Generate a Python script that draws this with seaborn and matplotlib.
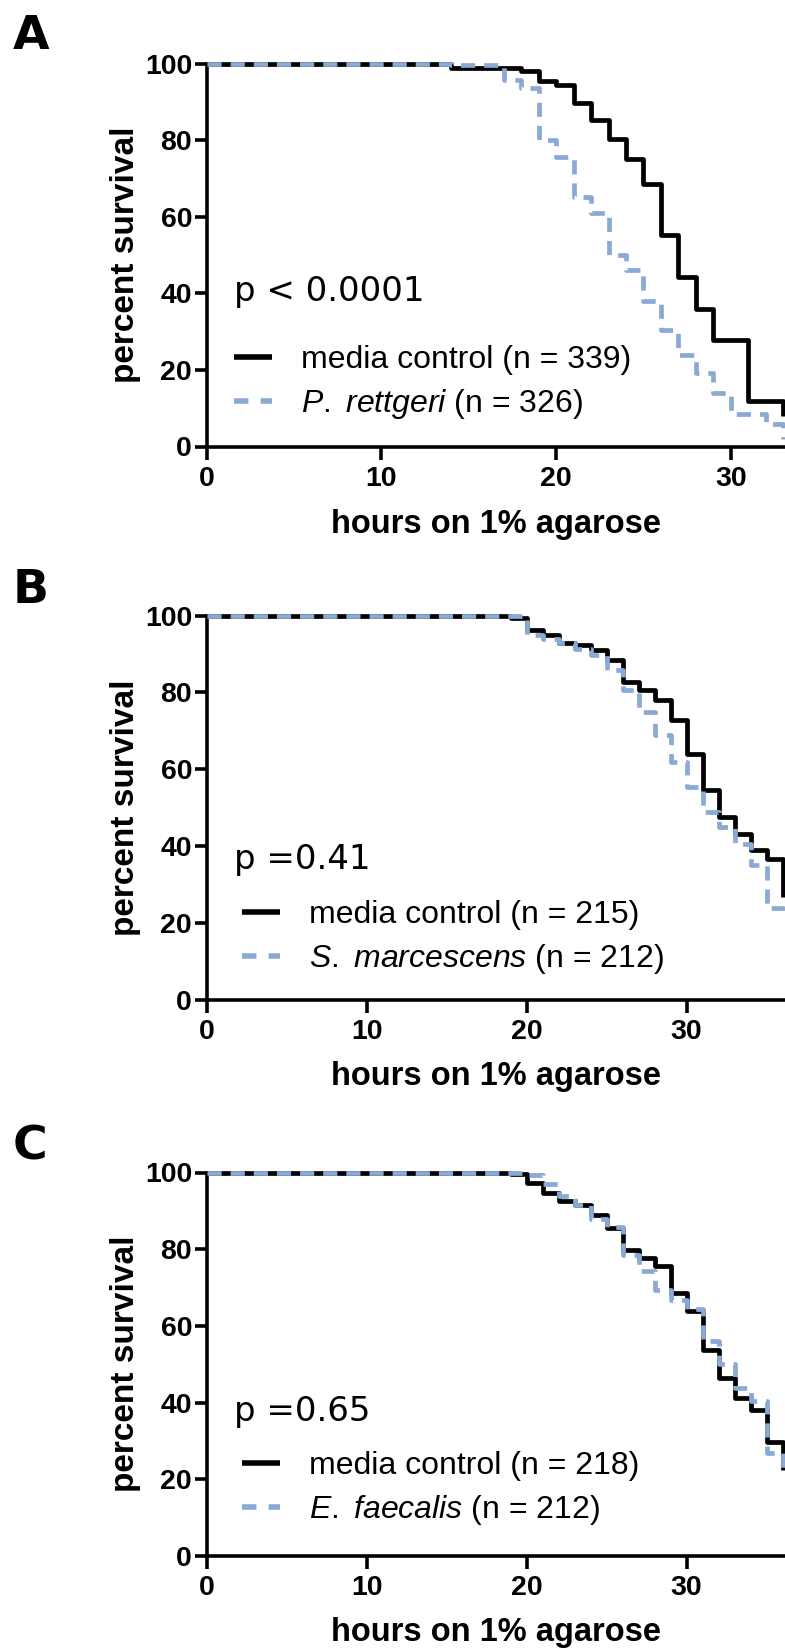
import matplotlib
matplotlib.use("Agg")
import matplotlib.pyplot as plt
from matplotlib.lines import Line2D
import pandas as pd
import seaborn as sns

# ---------------- data ----------------
# Panel A
a_ctrl_hours = [0, 14, 18, 19, 20, 21, 22, 23, 24, 25, 26, 27, 28, 29, 31, 33]
a_ctrl_surv = [100, 98.8, 98.1, 95.5, 94.4, 89.6, 85.3, 80.3, 75.0, 68.6, 55.2, 44.2, 35.8, 27.8, 12.0, 8.0]
a_trt_hours = [0, 14, 17, 18, 19, 20, 21, 22, 23, 24, 25, 26, 27, 28, 29, 30, 32, 33]
a_trt_surv = [100, 99.6, 95.7, 93.5, 80.0, 75.7, 65.2, 60.9, 50.0, 46.1, 38.0, 30.4, 23.9, 19.1, 13.9, 8.6, 6.0, 2.0]
# Panel B
b_ctrl_hours = [0, 19, 20, 21, 22, 23, 24, 25, 26, 27, 28, 29, 30, 31, 32, 33, 34, 35, 36]
b_ctrl_surv = [100, 99.3, 96.1, 94.8, 92.8, 92.2, 90.9, 88.3, 82.7, 80.5, 78.0, 72.7, 64.1, 54.5, 47.6, 43.2, 38.9, 36.8, 26.8]
b_trt_hours = [0, 20, 21, 22, 23, 24, 25, 26, 27, 28, 29, 30, 31, 32, 33, 34, 35, 36]
b_trt_surv = [100, 95.0, 94.0, 92.8, 91.4, 89.6, 85.7, 80.7, 75.0, 68.8, 61.8, 55.5, 49.0, 45.0, 40.5, 35.0, 24.0, 21.0]
# Panel C
c_ctrl_hours = [0, 19, 20, 21, 22, 23, 24, 25, 26, 27, 28, 29, 30, 31, 32, 33, 34, 35, 36]
c_ctrl_surv = [100, 99.5, 97.3, 94.7, 92.5, 91.6, 89.0, 85.5, 79.9, 77.7, 75.5, 68.6, 63.8, 53.8, 46.4, 41.2, 38.1, 29.8, 22.5]
c_trt_hours = [0, 20, 21, 22, 23, 24, 25, 26, 27, 28, 29, 30, 31, 32, 33, 34, 35, 36]
c_trt_surv = [100, 99.4, 97.1, 93.9, 91.6, 88.0, 85.7, 78.4, 74.3, 69.4, 66.8, 64.5, 56.0, 50.0, 43.8, 40.3, 26.8, 23.0]

panel_letters = ["A", "B", "C"]
p_texts = ["p < 0.0001", "p =0.41", "p =0.65"]
ctrl_labels = ["media control (n = 339)", "media control (n = 215)", "media control (n = 218)"]
trt_labels = [r"$\mathit{P.}$ $\mathit{rettgeri}$ (n = 326)",
              r"$\mathit{S.}$ $\mathit{marcescens}$ (n = 212)",
              r"$\mathit{E.}$ $\mathit{faecalis}$ (n = 212)"]
x_ticks = [0, 10, 20, 30]
y_ticks = [0, 20, 40, 60, 80, 100]
x_label = "hours on 1% agarose"
y_label = "percent survival"

# ---------------- style ----------------
sns.set_style("ticks")
plt.rcParams["font.family"] = ["Liberation Sans", "DejaVu Sans"]
plt.rcParams["mathtext.fontset"] = "custom"
plt.rcParams["mathtext.rm"] = "Liberation Sans"
plt.rcParams["mathtext.it"] = "Liberation Sans:italic"
for k in ("text.color", "axes.labelcolor", "xtick.color", "ytick.color", "axes.edgecolor"):
    plt.rcParams[k] = "black"

BLACK = "#000000"
BLUE = "#8aa9d5"
LW = 3.4
DASH = (3.0, 1.9)

W, H = 785, 1648
fig = plt.figure(figsize=(W / 100, H / 100), dpi=100)

layout = [
    dict(top=63.6, bottom=446.5, xmax=33.1, letter_y=14, p_y=291, leg_y=383, leg_x=234, xl_y=524),
    dict(top=615.5, bottom=1000.0, xmax=36.15, letter_y=568, p_y=859, leg_y=938, leg_x=242, xl_y=1077),
    dict(top=1172.5, bottom=1556.0, xmax=36.15, letter_y=1124, p_y=1412, leg_y=1489, leg_x=242, xl_y=1632),
]
series = [
    (a_ctrl_hours, a_ctrl_surv, a_trt_hours, a_trt_surv),
    (b_ctrl_hours, b_ctrl_surv, b_trt_hours, b_trt_surv),
    (c_ctrl_hours, c_ctrl_surv, c_trt_hours, c_trt_surv),
]

LEFT = 206.7
P_X = 234
for i, (L, S) in enumerate(zip(layout, series)):
    h_px = L["bottom"] - L["top"]
    w_px = W - LEFT
    ax = fig.add_axes([LEFT / W, 1 - L["bottom"] / H, w_px / W, h_px / H])
    ch, cs, th, ts = S
    df_c = pd.DataFrame({"hours": ch, "surv": cs})
    df_t = pd.DataFrame({"hours": th, "surv": ts})
    sns.lineplot(data=df_c, x="hours", y="surv", ax=ax, color=BLACK, lw=LW,
                 drawstyle="steps-post", estimator=None, errorbar=None, sort=False)
    sns.lineplot(data=df_t, x="hours", y="surv", ax=ax, color=BLUE, lw=LW,
                 drawstyle="steps-post", estimator=None, errorbar=None, sort=False)
    ax.lines[0].set_solid_capstyle("butt")
    ax.lines[1].set_dashes(DASH)
    ax.lines[1].set_dash_capstyle("butt")
    for ln in ax.lines:
        ln.set_clip_on(False)
        ln.set_zorder(3)
    ax.lines[1].set_zorder(4)

    ax.set_xlim(0, L["xmax"])
    ax.set_ylim(0, 100)
    ax.set_xticks(x_ticks)
    ax.set_yticks(y_ticks)
    sns.despine(ax=ax)
    for sp in ("left", "bottom"):
        ax.spines[sp].set_linewidth(2.6)
        ax.spines[sp].set_capstyle("projecting")
    ax.tick_params(axis="both", direction="out", length=9, width=2.6, labelsize=20.5,
                   colors="black")
    ax.tick_params(axis="x", pad=5)
    ax.tick_params(axis="y", pad=1.5)
    for lab in ax.get_xticklabels() + ax.get_yticklabels():
        lab.set_fontweight("bold")

    ax.set_xlabel(x_label, fontsize=23.5, fontweight="bold")
    ax.set_ylabel(y_label, fontsize=24, fontweight="bold")
    ax.xaxis.set_label_coords(0.5, -(L["xl_y"] - L["bottom"]) / h_px)
    ax.xaxis.label.set_va("center")
    ax.yaxis.set_label_coords(-(LEFT - 126) / w_px, 0.5)
    ax.yaxis.label.set_va("center")

    fig.text(P_X / W, 1 - L["p_y"] / H, p_texts[i], fontsize=24.5,
             family="DejaVu Sans", va="center", ha="left")

    handles = [
        Line2D([0], [0], color=BLACK, lw=LW + 0.6, solid_capstyle="butt"),
        Line2D([0], [0], color=BLUE, lw=LW + 0.6, dashes=(2.6, 2.2), dash_capstyle="butt"),
    ]
    ax.legend(handles, [ctrl_labels[i], trt_labels[i]], loc="center left",
              bbox_to_anchor=(L["leg_x"] / W, 1 - L["leg_y"] / H),
              bbox_transform=fig.transFigure, frameon=False, fontsize=23,
              handlelength=1.2, handletextpad=0.9, labelspacing=0.38,
              borderpad=0, borderaxespad=0)

    fig.text(13 / W, 1 - L["letter_y"] / H, panel_letters[i], fontsize=34,
             fontweight="bold", family="DejaVu Sans", va="top", ha="left")

fig.savefig("out.png", dpi=100)
